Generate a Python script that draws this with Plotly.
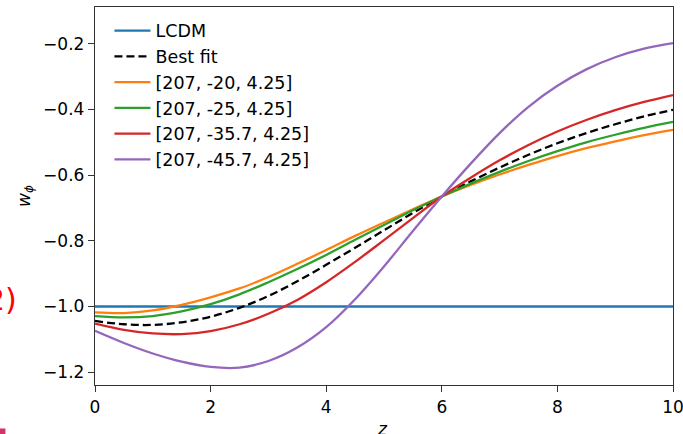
import plotly.graph_objects as go

# redshift grid shared by all curves
z = [0, 0.5, 1, 1.5, 2, 2.5, 3, 3.5, 4, 4.5, 5, 5.5, 6, 6.5, 7, 7.5, 8, 8.5, 9, 9.5, 10]

w_lcdm = [-1.0] * len(z)
w_best = [-1.044, -1.054, -1.056, -1.048, -1.031, -1.004, -0.968, -0.923, -0.873, -0.821,
          -0.768, -0.715, -0.665, -0.619, -0.577, -0.538, -0.503, -0.472, -0.445, -0.421, -0.401]
w_m20 = [-1.018, -1.020, -1.012, -0.995, -0.972, -0.945, -0.910, -0.870, -0.828, -0.785,
         -0.744, -0.704, -0.665, -0.630, -0.598, -0.569, -0.542, -0.518, -0.497, -0.478, -0.462]
w_m25 = [-1.029, -1.033, -1.029, -1.015, -0.993, -0.963, -0.926, -0.886, -0.843, -0.797,
         -0.752, -0.707, -0.665, -0.626, -0.590, -0.557, -0.527, -0.500, -0.477, -0.456, -0.438]
w_m357 = [-1.052, -1.071, -1.082, -1.084, -1.075, -1.054, -1.022, -0.980, -0.926, -0.864,
          -0.798, -0.731, -0.665, -0.608, -0.555, -0.508, -0.467, -0.432, -0.402, -0.377, -0.356]
w_m457 = [-1.074, -1.111, -1.143, -1.168, -1.184, -1.186, -1.166, -1.125, -1.063, -0.978,
          -0.878, -0.770, -0.665, -0.565, -0.472, -0.392, -0.328, -0.278, -0.241, -0.215, -0.198]

labels = ["LCDM", "Best fit", "[207, -20, 4.25]", "[207, -25, 4.25]",
          "[207, -35.7, 4.25]", "[207, -45.7, 4.25]"]

x_ticks = [0, 2, 4, 6, 8, 10]
y_ticks = [-1.2, -1.0, -0.8, -0.6, -0.4, -0.2]
y_ticktext = ["\u22121.2", "\u22121.0", "\u22120.8", "\u22120.6", "\u22120.4", "\u22120.2"]

series = [
    (w_lcdm, "#1f77b4", "solid"),
    (w_best, "black", "8px,4px"),
    (w_m20, "#ff7f0e", "solid"),
    (w_m25, "#2ca02c", "solid"),
    (w_m357, "#d62728", "solid"),
    (w_m457, "#9467bd", "solid"),
]

fig = go.Figure()
for (w, color, dash), name in zip(series, labels):
    fig.add_trace(go.Scatter(
        x=z, y=w, mode="lines", name=name,
        line=dict(color=color, width=2.3, dash=dash, shape="spline", smoothing=1.0),
    ))

axis_common = dict(
    showgrid=False, zeroline=False, showline=True, linecolor="#333333", linewidth=1.4,
    mirror=True, ticks="outside", ticklen=6, tickwidth=1.3, tickcolor="#333333",
    tickfont=dict(family="DejaVu Sans", size=17, color="black"),
    ticklabeloverflow="allow", automargin=False,
)

fig.update_xaxes(range=[0, 10], tickvals=x_ticks, ticktext=[str(t) for t in x_ticks],
                 **axis_common)
fig.update_yaxes(range=[-1.239, -0.088], tickvals=y_ticks, ticktext=y_ticktext,
                 title=dict(text="<i>w</i><sub><i>\u03d5</i></sub>",
                            font=dict(family="DejaVu Sans", size=17, color="black"),
                            standoff=8),
                 **axis_common)

fig.add_annotation(text="<i>z</i>", xref="paper", yref="paper", x=0.498, y=-0.085,
                   xanchor="center", yanchor="top", showarrow=False,
                   font=dict(family="DejaVu Sans", size=17, color="black"))
fig.add_annotation(text="2)", xref="paper", yref="paper", x=-0.131, y=0.225,
                   xanchor="right", yanchor="middle", showarrow=False,
                   font=dict(family="DejaVu Sans", size=30, color="red"))
fig.add_shape(type="rect", xref="paper", yref="paper", x0=-0.17, x1=-0.155,
              y0=-0.13, y1=-0.115, fillcolor="#d6336c", line=dict(width=0))

fig.update_layout(
    width=683, height=434,
    margin=dict(l=95, r=10, t=7, b=49),
    plot_bgcolor="white", paper_bgcolor="white",
    legend=dict(x=0.025, y=0.985, xanchor="left", yanchor="top",
                bgcolor="rgba(0,0,0,0)", borderwidth=0, itemwidth=36,
                font=dict(family="DejaVu Sans", size=17.5, color="black")),
    showlegend=True,
)

fig.write_html("out.html")
